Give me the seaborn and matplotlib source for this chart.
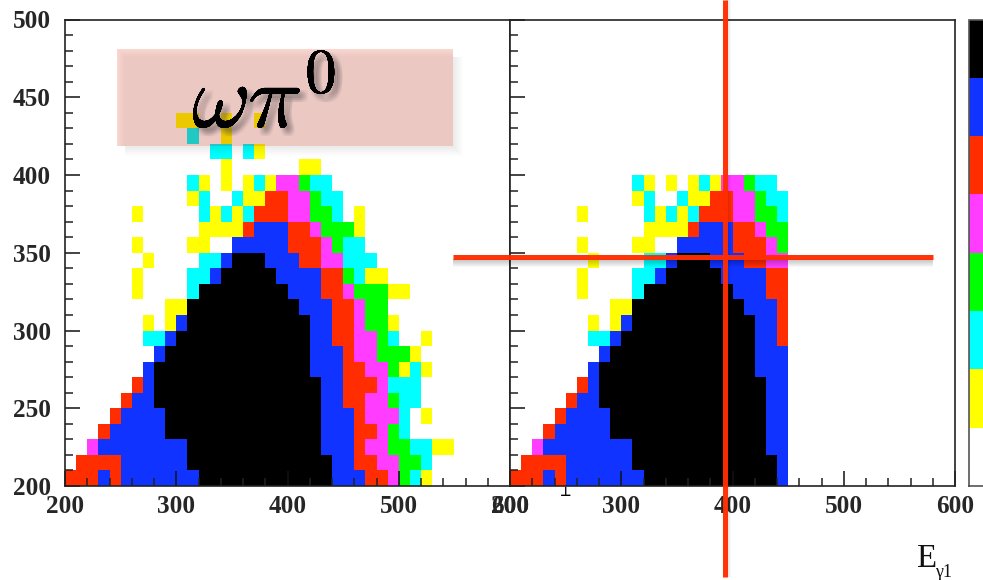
import numpy as np
import pandas as pd
import matplotlib
matplotlib.use("Agg")
import matplotlib.pyplot as plt
import matplotlib.patheffects as pe
from matplotlib.colors import ListedColormap, BoundaryNorm
from matplotlib.patches import Rectangle
import seaborn as sns

# level of each 10x10 bin, lowest row (y=200-210) first, x = 200..590
rows = [
    "5556566666 6677777777 7777666554 3210000000",
    "0555566666 6777777777 7777665544 3320000000",
    "0046666666 6777777777 7776665443 3221100000",
    "0005666667 7777777777 7776665543 2000000000",
    "0000566667 7777777777 7776665444 2010000000",
    "0000056677 7777777777 7776655443 2200000000",
    "0000005677 7777777777 7776655542 2200000000",
    "0000000677 7777777777 7766655443 1210000000",
    "0000000067 7777777777 7766654433 3100000000",
    "0000000226 7777777777 7766554432 0010000000",
    "0000000101 6777777777 7766554331 0000000000",
    "0000000001 1777777777 7666554330 0000000000",
    "0000001000 0277777777 6665543331 1000000000",
    "0000001000 0226777776 6665532110 0000000000",
    "0000000100 0022677766 6554422200 0000000000",
    "0000001000 0110066666 5554322000 0000000000",
    "0000000000 0011115666 5543331000 0000000000",
    "0000001000 0021212555 4433201000 0000000000",
    "0000000000 0120021155 4432200000 0000000000",
    "0000000000 0210101214 4322000000 0000000000",
    "0000000000 0000100000 0110000000 0000000000",
    "0000000000 0002202100 0000000000 0000000000",
    "0000000000 0200100000 0000000000 0000000000",
    "0000000000 1100100100 0000000000 0000000000",
    "0000000000 0000000000 0000000000 0000000000",
    "0000000000 0000000000 0000000000 0000000000",
    "0000000000 0000000000 0000000000 0000000000",
    "0000000000 0000000000 0000000000 0000000000",
    "0000000000 0000000000 0000000000 0000000000",
    "0000000000 0000000000 0000000000 0000000000",
]
level_colors = ["#FFFFFF", "#FFFF00", "#00FFFF", "#00FF00",
                "#FF3CFF", "#FF2D00", "#1033FF", "#000000"]
x_edges = list(range(200, 600, 10))
y_edges = list(range(200, 500, 10))
x_major = [200, 300, 400, 500, 600]
x_minor = list(range(200, 620, 20))
y_major = [200, 250, 300, 350, 400, 450, 500]
y_minor = list(range(200, 510, 10))
right_x_limit = 450
right_y_limit = 400

W, H = 983, 580
sns.set_style("white")
plt.rcParams["font.family"] = ["Liberation Serif", "DejaVu Serif"]

left_df = pd.DataFrame([[int(c) for c in r.replace(" ", "")] for r in rows],
                       index=y_edges, columns=x_edges)
right_df = left_df.copy()
right_df.loc[:, [x for x in x_edges if x >= right_x_limit]] = 0
right_df.loc[[y for y in y_edges if y >= right_y_limit], :] = 0

cmap = ListedColormap(level_colors)
norm = BoundaryNorm(np.arange(-0.5, 8.5), cmap.N)


def box(x0, y_top, x1, y_bot):
    return [x0 / W, 1 - y_bot / H, (x1 - x0) / W, (y_bot - y_top) / H]


fig = plt.figure(figsize=(W / 100, H / 100), dpi=100, facecolor="white")
ax_l = fig.add_axes(box(65, 19.5, 510, 486))
ax_r = fig.add_axes(box(510, 19.5, 955, 486))
cax = fig.add_axes(box(969, 19.5, 995, 486))

sns.heatmap(left_df, ax=ax_l, cmap=cmap, norm=norm, cbar=True, cbar_ax=cax,
            cbar_kws={"ticks": [], "drawedges": False}, xticklabels=False, yticklabels=False)
sns.heatmap(right_df, ax=ax_r, cmap=cmap, norm=norm, cbar=False,
            xticklabels=False, yticklabels=False)

xpos = lambda v: (np.asarray(v) - 200) / 10
ypos = lambda v: (np.asarray(v) - 200) / 10

for i, ax in enumerate((ax_l, ax_r)):
    ax.invert_yaxis()
    ax.set_axisbelow(False)
    ax.set_xlabel("")
    ax.set_ylabel("")
    ax.set_xticks(xpos(x_major))
    ax.set_xticklabels([str(v) for v in x_major], fontweight="bold", fontsize=18.2)
    ax.set_xticks(xpos(x_minor), minor=True)
    ax.set_yticks(ypos(y_major))
    ax.set_yticks(ypos(y_minor), minor=True)
    if i == 0:
        ax.set_yticklabels([str(v) for v in y_major], fontweight="bold", fontsize=18.2)
    else:
        ax.set_yticklabels([])
    ax.tick_params(which="major", direction="in", length=11, width=1.1, color="#111111",
                   bottom=True, left=True, pad=6.5)
    ax.tick_params(axis="y", which="major", pad=10)
    ax.tick_params(which="minor", direction="in", length=5.5, width=1.1, color="#222222",
                   bottom=True, left=True)
    for s in ax.spines.values():
        s.set_visible(True)
        s.set_linewidth(1.2)
        s.set_color("#222222")
        s.set_zorder(5)
    ax.patch.set_alpha(0)

cb = ax_l.collections[0].colorbar
cb.outline.set_visible(True)
cb.outline.set_edgecolor("#555555")
cb.outline.set_linewidth(1.2)
cb.ax.tick_params(length=0)

# Overlay in pixel coordinates for the slide annotations
ov = fig.add_axes([0, 0, 1, 1], zorder=10)
ov.set_xlim(0, W)
ov.set_ylim(H, 0)
ov.axis("off")

# pink box, with soft drop shadow and inner fade
bx0, by0, bx1, by1 = 117, 49, 453, 146
for k in range(1, 11):
    ov.add_patch(Rectangle((bx1, by0 + 8), k, by1 - by0 + k - 8, fc="k", ec="none", alpha=0.008, lw=0))
    ov.add_patch(Rectangle((bx0 + 8, by1), bx1 - bx0 - 8, k, fc="k", ec="none", alpha=0.008, lw=0))
ov.add_patch(Rectangle((bx0, by0), bx1 - bx0, by1 - by0, fc=(0.90, 0.12, 0.0), ec="none", alpha=0.18, lw=0))
for k in range(1, 8):
    ov.add_patch(Rectangle((bx0 + k, by0 + k), bx1 - bx0 - k, by1 - by0 - k, fc="k", ec="none",
                           alpha=0.0075, lw=0))

blur = [pe.withSimplePatchShadow(offset=(dx, -dy), shadow_rgbFace="#444444", alpha=0.045)
        for dx in (1.5, 3, 4.5, 6) for dy in (1.5, 3, 4.5, 6)]
ov.text(192, 127, r"$\omega\pi^0$", math_fontfamily="cm", fontsize=65, color="black",
        ha="left", va="baseline", path_effects=blur + [pe.Normal()])

# red cross with shadow
for k in range(1, 9):
    ov.add_patch(Rectangle((453, 259), 480, k, fc="k", ec="none", alpha=0.03, lw=0))
ov.plot([453, 933], [257, 257], color="#FF2D00", lw=3.6, solid_capstyle="butt", alpha=0.97)
for k in range(1, 5):
    ov.add_patch(Rectangle((727, 0), k, 577, fc="k", ec="none", alpha=0.03, lw=0))
ov.plot([725, 725], [0, 577], color="#FF2D00", lw=3.6, solid_capstyle="butt", alpha=0.97)

# stray glyph under the right panel and the axis title
ov.text(566, 486, "\u22a5", family=["DejaVu Sans"], fontsize=9, fontweight="bold",
        ha="center", va="top", color="black")
ov.text(917.5, 567, "E", fontsize=23.6, ha="left", va="baseline", color="#111111")
ov.text(935, 577, "\u03b31", fontsize=13, ha="left", va="baseline", color="#111111")

fig.savefig("out.png", dpi=100)
